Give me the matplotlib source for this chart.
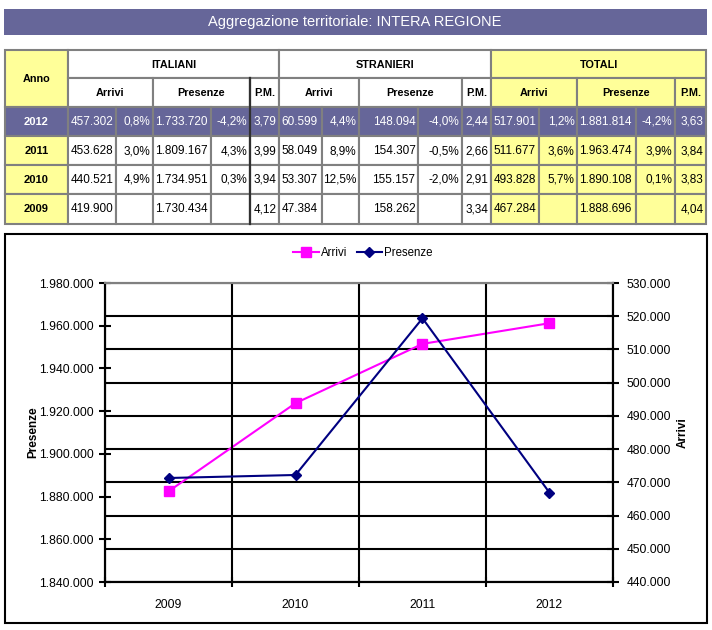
import matplotlib
matplotlib.use("Agg")
import matplotlib.pyplot as plt
from matplotlib.patches import Rectangle
from matplotlib.ticker import FuncFormatter, FixedLocator

plt.rcParams['font.family'] = ['Liberation Sans', 'DejaVu Sans']

PURPLE = '#666699'
YELLOW = '#FFFF99'
GRID_GRAY = '#808080'

# table data (rows from newest to oldest)
years = ['2012', '2011', '2010', '2009']
ita_arrivi = ['457.302', '453.628', '440.521', '419.900']
ita_arrivi_var = ['0,8%', '3,0%', '4,9%', '']
ita_presenze = ['1.733.720', '1.809.167', '1.734.951', '1.730.434']
ita_presenze_var = ['-4,2%', '4,3%', '0,3%', '']
ita_pm = ['3,79', '3,99', '3,94', '4,12']
str_arrivi = ['60.599', '58.049', '53.307', '47.384']
str_arrivi_var = ['4,4%', '8,9%', '12,5%', '']
str_presenze = ['148.094', '154.307', '155.157', '158.262']
str_presenze_var = ['-4,0%', '-0,5%', '-2,0%', '']
str_pm = ['2,44', '2,66', '2,91', '3,34']
tot_arrivi = ['517.901', '511.677', '493.828', '467.284']
tot_arrivi_var = ['1,2%', '3,6%', '5,7%', '']
tot_presenze = ['1.881.814', '1.963.474', '1.890.108', '1.888.696']
tot_presenze_var = ['-4,2%', '3,9%', '0,1%', '']
tot_pm = ['3,63', '3,84', '3,83', '4,04']

groups = ['ITALIANI', 'STRANIERI', 'TOTALI']
subheads = ['Arrivi', 'Presenze', 'P.M.']

# chart data
chart_years = ['2009', '2010', '2011', '2012']
arrivi = [467284, 493828, 511677, 517901]
presenze = [1888696, 1890108, 1963474, 1881814]

W, H = 712, 630
fig = plt.figure(figsize=(W / 100, H / 100), dpi=100)

# full-figure pixel axes for the title bar and the table
bg = fig.add_axes([0, 0, 1, 1])
bg.set_xlim(0, W)
bg.set_ylim(H, 0)
bg.axis('off')

bg.add_patch(Rectangle((4, 9), 703, 26, facecolor=PURPLE, edgecolor='none'))
bg.text(355, 22, 'Aggregazione territoriale: INTERA REGIONE', color='white',
        ha='center', va='center', fontsize=10.5)

xs = [5, 68, 116, 153, 211, 250, 279, 322, 359, 418, 462, 491, 539, 577, 636, 675, 706]
ys = [50, 78, 107, 136, 165, 194, 224]


def cell(x0, x1, y0, y1, fc, text='', align='center', bold=False, color='black', size=8.5):
    bg.add_patch(Rectangle((x0, y0), x1 - x0, y1 - y0, facecolor=fc,
                           edgecolor=GRID_GRAY, linewidth=1.5))
    if not text:
        return
    if align == 'left':
        tx = x0 + 2.5
    elif align == 'right':
        tx = x1 - 2.5
    else:
        tx = (x0 + x1) / 2
    bg.text(tx, (y0 + y1) / 2 + 0.5, text, ha=align, va='center', fontsize=size,
            fontweight='bold' if bold else 'normal', color=color)


# header
cell(xs[0], xs[1], ys[0], ys[2], YELLOW, 'Anno', bold=True, size=7.8)
for g, name in enumerate(groups):
    c = 1 + g * 5
    fc = YELLOW if name == 'TOTALI' else 'white'
    cell(xs[c], xs[c + 5], ys[0], ys[1], fc, name, bold=True, size=7.8)
    cell(xs[c], xs[c + 2], ys[1], ys[2], fc, subheads[0], bold=True, size=7.8)
    cell(xs[c + 2], xs[c + 4], ys[1], ys[2], fc, subheads[1], bold=True, size=7.8)
    cell(xs[c + 4], xs[c + 5], ys[1], ys[2], fc, subheads[2], bold=True, size=7.8)

columns = [
    (ita_arrivi, 'left'), (ita_arrivi_var, 'right'),
    (ita_presenze, 'left'), (ita_presenze_var, 'right'), (ita_pm, 'right'),
    (str_arrivi, 'left'), (str_arrivi_var, 'right'),
    (str_presenze, 'right'), (str_presenze_var, 'right'), (str_pm, 'right'),
    (tot_arrivi, 'left'), (tot_arrivi_var, 'right'),
    (tot_presenze, 'left'), (tot_presenze_var, 'right'), (tot_pm, 'right'),
]

for r, yr in enumerate(years):
    y0, y1 = ys[r + 2], ys[r + 3]
    first = r == 0
    cell(xs[0], xs[1], y0, y1, PURPLE if first else YELLOW, yr, bold=True,
         color='white' if first else 'black', size=8)
    for c, (vals, al) in enumerate(columns):
        if first:
            fc = PURPLE
        elif c >= 10:
            fc = YELLOW
        else:
            fc = 'white'
        cell(xs[c + 1], xs[c + 2], y0, y1, fc, vals[r], align=al,
             color='white' if first else 'black')

# darker separator before the Italian P.M. column
bg.plot([xs[5], xs[5]], [ys[1], ys[6]], color='#303030', lw=1.6)

# chart frame
bg.add_patch(Rectangle((5, 234), 702, 389, facecolor='none', edgecolor='black', linewidth=1.5))

# chart
left, right, top, bottom = 105, 613, 283, 582
ax = fig.add_axes([left / W, 1 - bottom / H, (right - left) / W, (bottom - top) / H])
ax2 = ax.twinx()
ax.set_zorder(2)
ax.patch.set_visible(False)
ax2.set_zorder(1)
ax2.patch.set_facecolor('#C0C0C0')

x = list(range(len(chart_years)))
ln_a, = ax2.plot(x, arrivi, color='#FF00FF', marker='s', markersize=7, lw=1.5,
                 label='Arrivi', zorder=3)
ln_p, = ax.plot(x, presenze, color='#000080', marker='D', markersize=5, lw=1.5,
                label='Presenze', zorder=3)

ax.set_xlim(-0.5, len(x) - 0.5)
ax.set_ylim(1840000, 1980000)
ax2.set_ylim(440000, 530000)

fmt = FuncFormatter(lambda v, p: f"{int(round(v)):,}".replace(',', '.'))
ax.yaxis.set_major_locator(FixedLocator(range(1840000, 1980001, 20000)))
ax2.yaxis.set_major_locator(FixedLocator(range(440000, 530001, 10000)))
ax.yaxis.set_major_formatter(fmt)
ax2.yaxis.set_major_formatter(fmt)

ax.set_xticks([i - 0.5 for i in range(len(x) + 1)])
ax.set_xticklabels([])
ax.set_xticks(x, minor=True)
ax.set_xticklabels(chart_years, minor=True)
ax.tick_params(axis='x', which='major', direction='inout', length=7, width=1.5)
ax.tick_params(axis='x', which='minor', length=0, pad=12, labelsize=8.7)
ax.tick_params(axis='y', direction='inout', length=8, width=1.5, labelsize=8.7, pad=4)
ax2.tick_params(axis='y', direction='inout', length=8, width=1.5, labelsize=8.7, pad=6)
ax2.tick_params(axis='x', which='both', length=0, labelbottom=False)

# gridlines: horizontal from right axis, vertical at category borders
ax2.yaxis.grid(True, color='black', lw=1.5)
ax.xaxis.grid(True, which='major', color='black', lw=1.5)

for a in (ax, ax2):
    for s in ['left', 'bottom', 'right']:
        a.spines[s].set_linewidth(1.5)
        a.spines[s].set_color('black')
    a.spines['top'].set_color(GRID_GRAY)
    a.spines['top'].set_linewidth(1.5)

ax.set_ylabel('Presenze', fontsize=8.5, fontweight='bold')
ax.yaxis.set_label_coords(-0.13, 0.5)
ax2.set_ylabel('Arrivi', fontsize=8.5, fontweight='bold')
ax2.yaxis.set_label_coords(1.126, 0.5)

fig.legend(handles=[ln_a, ln_p], loc='center', bbox_to_anchor=(363 / W, 1 - 253 / H),
           ncol=2, frameon=False, fontsize=8.3, handlelength=2.2, columnspacing=0.8,
           handletextpad=0.2)

fig.savefig('out.png', dpi=100)
